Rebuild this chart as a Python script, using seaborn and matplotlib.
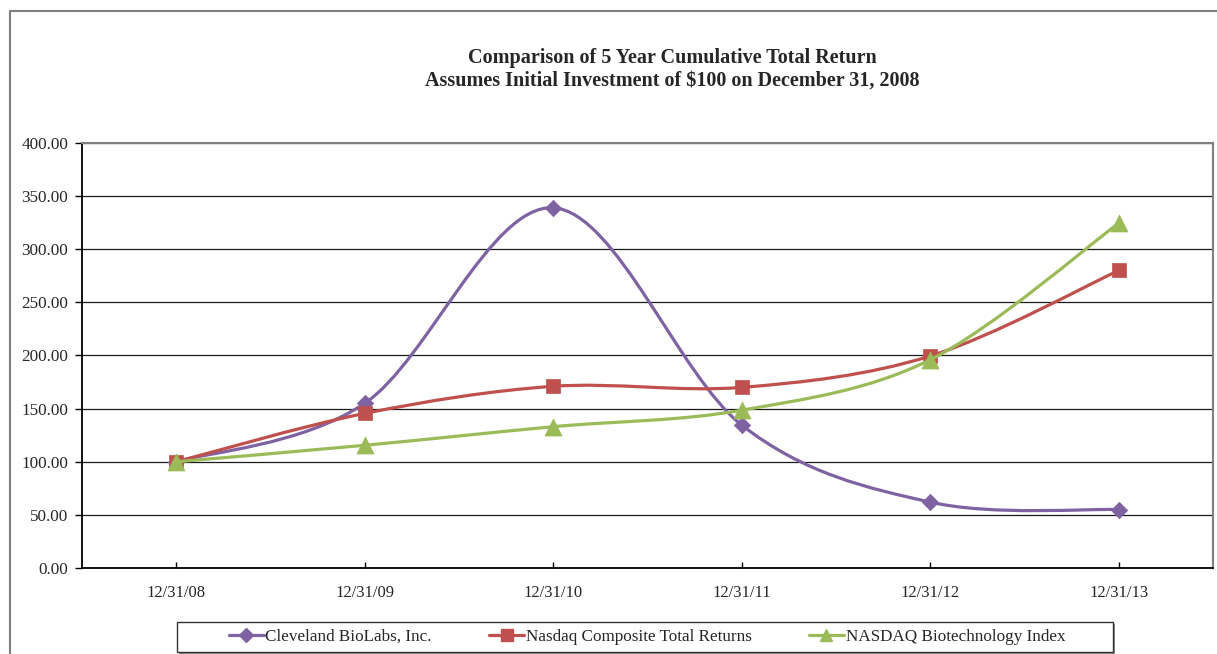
import numpy as np
import pandas as pd
import matplotlib
matplotlib.use('Agg')
import matplotlib.pyplot as plt
from matplotlib.path import Path
from matplotlib.patches import PathPatch, Rectangle
from matplotlib.lines import Line2D
import seaborn as sns

# Data
dates = ['12/31/08', '12/31/09', '12/31/10', '12/31/11', '12/31/12', '12/31/13']
cleveland = [100.00, 155.00, 339.00, 134.50, 62.00, 55.00]
nasdaq = [100.00, 145.50, 171.00, 170.00, 199.50, 280.00]
biotech = [100.00, 115.50, 133.00, 148.50, 196.00, 324.50]

series_names = ['Cleveland BioLabs, Inc.', 'Nasdaq Composite Total Returns', 'NASDAQ Biotechnology Index']
series_vals = [cleveland, nasdaq, biotech]
colors = ['#7F62A2', '#C0504D', '#9BBB59']
markers = ['D', 's', '^']
msizes = [70, 110, 150]

sns.set_style('white')
plt.rcParams['font.family'] = ['Liberation Serif', 'DejaVu Serif']


def smooth_path(xs, ys):
    # Excel-style smoothed line: cubic Bezier through each point
    pts = np.column_stack([xs, ys]).astype(float)
    ext = np.vstack([pts[0], pts, pts[-1]])
    verts = [pts[0]]
    codes = [Path.MOVETO]
    for i in range(len(pts) - 1):
        p0, p1, p2, p3 = ext[i], ext[i + 1], ext[i + 2], ext[i + 3]
        c1 = p1 + (p2 - p0) / 6.0
        c2 = p2 - (p3 - p1) / 6.0
        verts += [c1, c2, p2]
        codes += [Path.CURVE4] * 3
    return Path(verts, codes)


W, H = 1217, 654
fig = plt.figure(figsize=(W / 100, H / 100), dpi=100)
ax = fig.add_axes([82 / W, (H - 568) / H, (1213 - 82) / W, (568 - 143) / H])

x = np.arange(len(dates))
for k, (name, vals) in enumerate(zip(series_names, series_vals)):
    patch = PathPatch(smooth_path(x, vals), facecolor='none', edgecolor=colors[k],
                      lw=2.3, zorder=3 + 2 * k, capstyle='round')
    ax.add_patch(patch)
    df = pd.DataFrame({'x': x, 'y': vals})
    sns.scatterplot(data=df, x='x', y='y', marker=markers[k], color=colors[k],
                    s=msizes[k], edgecolor=colors[k], linewidth=0.5,
                    ax=ax, zorder=4 + 2 * k, legend=False)

ax.set_xlim(-0.5, len(dates) - 0.5)
ax.set_ylim(0, 400)
ax.set_yticks(np.arange(0, 401, 50))
ax.set_yticklabels(['%.2f' % v for v in np.arange(0, 401, 50)], fontsize=12.3)
ax.set_xticks(x)
ax.set_xticklabels(dates, fontsize=12)
ax.set_xlabel('')
ax.set_ylabel('')
ax.yaxis.grid(True, color='#1a1a1a', lw=0.9)
ax.set_axisbelow(True)
ax.tick_params(axis='y', direction='out', length=5, width=1, color='black', pad=5, left=True)
ax.tick_params(axis='x', direction='in', length=4, width=1, color='black', pad=12, bottom=True)
for s in ['left', 'bottom']:
    ax.spines[s].set_color('black')
    ax.spines[s].set_linewidth(1.3)
for s in ['top', 'right']:
    ax.spines[s].set_color('#808080')
    ax.spines[s].set_linewidth(1.5)

fig.text(672 / W, 1 - 58 / H, 'Comparison of 5 Year Cumulative Total Return',
         ha='center', va='center', fontsize=14.5, fontweight='bold')
fig.text(672 / W, 1 - 81 / H, 'Assumes Initial Investment of $100 on December 31, 2008',
         ha='center', va='center', fontsize=14.5, fontweight='bold')

# outer frame
fig.patches.append(Rectangle((10 / W, -0.1), 1.2, 1 - 11 / H + 0.1, transform=fig.transFigure,
                             facecolor='none', edgecolor='#808080', lw=1.5))

# legend box with a light shadow
fig.patches.append(Rectangle((179 / W, 1 - 654 / H), 936 / W, 30 / H, transform=fig.transFigure,
                             facecolor='#909090', edgecolor='none', zorder=1))
fig.patches.append(Rectangle((177 / W, 1 - 652 / H), 936 / W, 30 / H, transform=fig.transFigure,
                             facecolor='white', edgecolor='#333333', lw=1.0, zorder=2))

handles = [Line2D([], [], color=c, marker=m, lw=2.3, markersize=ms)
           for c, m, ms in zip(colors, markers, [7, 8, 9])]
leg = fig.legend(handles, series_names, loc='center', bbox_to_anchor=(647 / W, 1 - 637 / H),
                 ncol=3, frameon=False, fontsize=12.3, handlelength=2.05,
                 handletextpad=0.1, columnspacing=3.35, borderpad=0.4)
leg.set_zorder(5)

fig.savefig('out.png', dpi=100)
